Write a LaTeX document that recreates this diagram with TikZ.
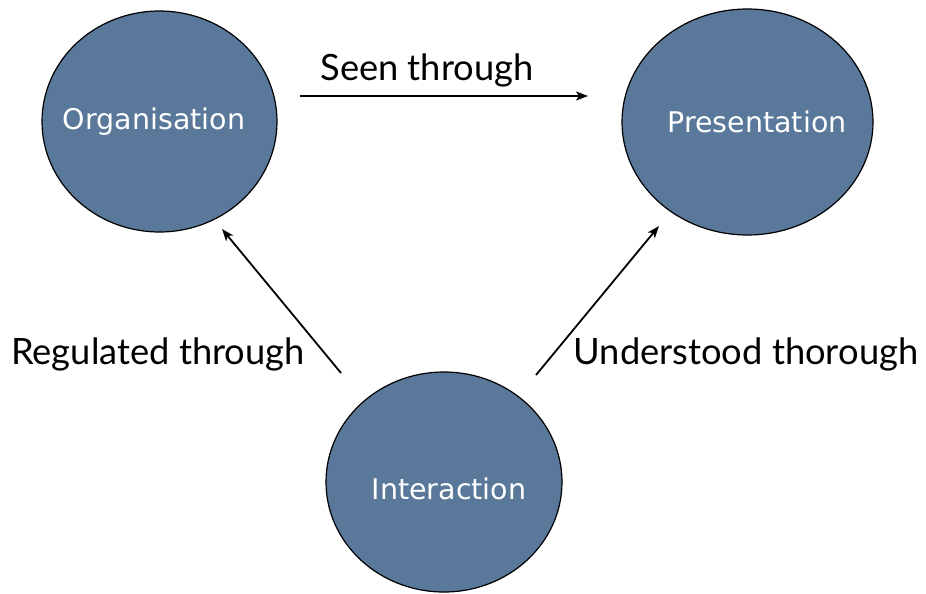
\documentclass[tikz,border=0pt]{standalone}
\usepackage{fontspec}
\setmainfont{Lato}
\newfontfamily\nodefont{DejaVu Sans}
\usetikzlibrary{shapes.geometric,arrows.meta}
\definecolor{blobblue}{RGB}{89,120,154}
\begin{document}
\begin{tikzpicture}[x=1pt,y=-1pt,
  blob/.style={ellipse,draw=black,line width=1.2pt,fill=blobblue,inner sep=0pt},
  blobtext/.style={text=white,inner sep=0pt,font=\nodefont\fontsize{28.5}{32}\selectfont},
  link/.style={line width=1.8pt,-{Stealth[length=12pt,width=9pt,inset=3pt]}},
  lab/.style={font=\fontsize{36.3}{42}\selectfont,text=black,inner sep=0pt}]
\useasboundingbox (0,0) rectangle (926,594);
\node[blob,minimum width=235pt,minimum height=221pt] (org) at (159.5,121.5) {};
\node[blob,minimum width=251pt,minimum height=226pt] (pres) at (747.5,122) {};
\node[blob,minimum width=236pt,minimum height=220pt] (inter) at (444,482) {};
\node[blobtext] (orgt) at (154,122) {Organisation};
\node[blobtext] (prest) at (757,122) {Presentation};
\node[blobtext] (intert) at (449,489) {Interaction};
\coordinate (s1) at (300,96);
\coordinate (e1) at (588,96);
\coordinate (s2) at (341,373);
\coordinate (e2) at (222,229);
\coordinate (s3) at (536,375);
\coordinate (e3) at (659,226);
\draw[link] (s1) -- (e1);
\draw[link] (s2) -- (e2);
\draw[link] (s3) -- (e3);
\node[lab] (l1) at (427,70) {Seen through};
\node[lab] (l2) at (158,354) {Regulated through};
\node[lab] (l3) at (746,354) {Understood thorough};
\end{tikzpicture}
\end{document}
